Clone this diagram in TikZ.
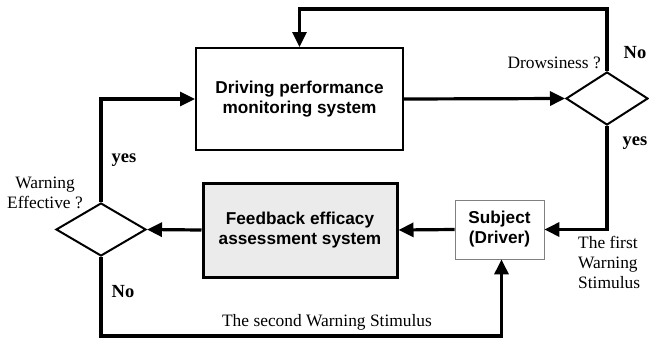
\documentclass[tikz,border=0pt]{standalone}
\usepackage{fontspec}
\setmainfont{Liberation Serif}
\setsansfont{Liberation Sans}
\usetikzlibrary{shapes.geometric,arrows.meta}
\definecolor{fbfill}{HTML}{EBEBEB}
\begin{document}
\begin{tikzpicture}[x=1pt,y=-1pt,
  box/.style={draw, font=\sffamily\bfseries\fontsize{17.2}{20}\selectfont, align=center, inner sep=0pt},
  dia/.style={diamond, draw, line width=2pt, inner sep=0pt},
  flow/.style={line width=3.2pt, -{Triangle[length=15pt,width=14pt]}},
  lab/.style={font=\fontsize{17.4}{20}\selectfont, inner sep=0pt},
  blab/.style={font=\bfseries\fontsize{18.5}{20}\selectfont, inner sep=0pt}]
\useasboundingbox (0,0) rectangle (649,341);
\node[box, line width=2pt, minimum width=207pt, minimum height=102pt] (dp) at (299.5,99) {Driving performance\\monitoring system};
\node[box, line width=3pt, fill=fbfill, minimum width=194pt, minimum height=94pt] (fb) at (300,230) {Feedback efficacy\\assessment system};
\node[box, draw=gray, line width=0.8pt, minimum width=89pt, minimum height=59pt] (subj) at (499.5,229.5) {Subject\\(Driver)};
\node[dia, minimum width=82pt, minimum height=53pt] (dr) at (607,98.5) {};
\node[dia, minimum width=90pt, minimum height=53pt] (we) at (101,229.5) {};
\draw[flow] (dp.east) -- (dr.west);
\draw[flow] (dr.north) -- ++(0,-62) -| (dp.north);
\draw[flow] (dr.south) |- (subj.east);
\draw[flow] (subj.west) -- (fb.east);
\draw[flow] (fb.west) -- (we.east);
\draw[flow] (we.north) |- (dp.west);
\draw[flow] (we.south) -- ++(0,79) -| ([xshift=2pt]subj.south);
\node[lab, anchor=east] (tdr) at (601,63) {Drowsiness ?};
\node[blab] (tno1) at (635,53) {No};
\node[blab] (tyes1) at (635,143) {yes};
\node[blab] (tyes2) at (124,160) {yes};
\node[blab] (tno2) at (123,292) {No};
\node[lab, align=center] (twe) at (45,193) {Warning\\Effective ?};
\node[lab, align=left, anchor=west] (tfirst) at (578,262) {The first\\Warning\\Stimulus};
\node[lab] (tsecond) at (327,322) {The second Warning Stimulus};
\end{tikzpicture}
\end{document}
